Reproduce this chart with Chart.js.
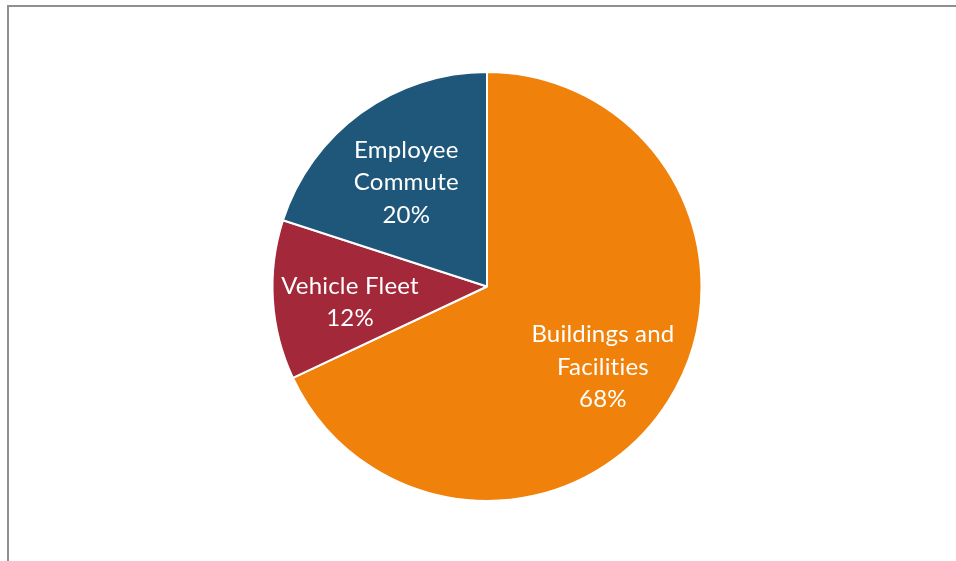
<!DOCTYPE html>
<html>
<head>
<meta charset="utf-8">
<script src="https://cdn.jsdelivr.net/npm/chart.js@4"></script>
<style>
  html, body { margin: 0; padding: 0; background: #fff; overflow: hidden; }
  #wrap { position: relative; width: 956px; height: 561px; }
  #frame {
    position: absolute; left: 7px; top: 5px; right: -10px; bottom: -10px;
    border-left: 2px solid #8f8f8f; border-top: 2px solid #8f8f8f;
  }
  #pie { position: absolute; left: 0; top: 0; }
</style>
</head>
<body>
<div id="wrap">
  <div id="frame"></div>
  <canvas id="pie" width="956" height="561"></canvas>
</div>
<script>
// Emisiones por fuente
const categories = [
  ['Buildings and', 'Facilities'],
  ['Vehicle Fleet'],
  ['Employee', 'Commute'],
];
const shares = [68, 12, 20];
const sliceColors = ['#f0810a', '#a2283a', '#1e577a'];

// Etiquetas dentro de cada porcion: nombre + porcentaje
const sliceLabels = {
  id: 'sliceLabels',
  afterDatasetsDraw(chart) {
    const ctx = chart.ctx;
    const meta = chart.getDatasetMeta(0);
    ctx.save();
    ctx.fillStyle = '#ffffff';
    ctx.font = '24px Lato';
    ctx.letterSpacing = '0.2px'; // sin ligaduras (ti)
    ctx.textAlign = 'center';
    ctx.textBaseline = 'middle';
    meta.data.forEach((arc, i) => {
      const p = arc.getProps(['x', 'y', 'startAngle', 'endAngle', 'outerRadius'], true);
      const mid = (p.startAngle + p.endAngle) / 2;
      const r = p.outerRadius * 0.64;
      const cx = p.x + Math.cos(mid) * r;
      const cy = p.y + Math.sin(mid) * r + 7;
      const lines = categories[i].concat([shares[i] + '%']);
      const lh = 32.5;
      lines.forEach((t, j) => {
        ctx.fillText(t, cx, cy + (j - (lines.length - 1) / 2) * lh);
      });
    });
    ctx.restore();
  },
};

new Chart(
    document.getElementById('pie'),
    {
      type: 'pie',
      data: {
        labels: categories.map((c) => c.join(' ')),
        datasets: [{
          data: shares,
          backgroundColor: sliceColors,
          borderColor: '#ffffff',
          borderWidth: 2,
        }],
      },
      options: {
        responsive: false,
        animation: false,
        layout: {padding: {left: 18, right: 0, top: 71, bottom: 59}},
        plugins: {
          legend: {display: false},
          tooltip: {enabled: false},
        },
      },
      plugins: [sliceLabels],
    },
);
</script>
</body>
</html>
